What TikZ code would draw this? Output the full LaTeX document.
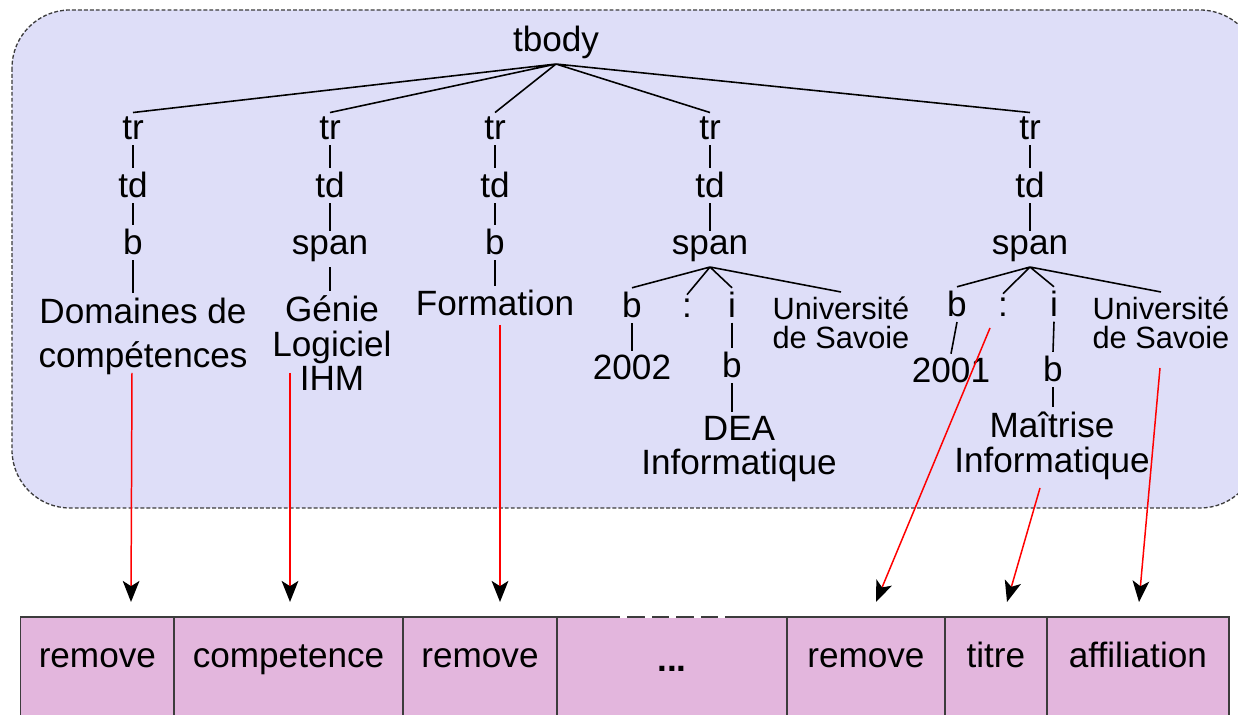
\documentclass[tikz,border=0pt]{standalone}
\usepackage{fontspec}
\setmainfont{Liberation Sans}
\usepackage{tikz}
\usetikzlibrary{arrows.meta,positioning}
\definecolor{treebg}{RGB}{222,222,248}
\definecolor{slotbg}{RGB}{227,182,221}
\definecolor{rimgray}{RGB}{60,60,60}

\begin{document}
\begin{tikzpicture}[x=0.02cm, y=-0.02cm,
    tag/.style={inner sep=2.5pt, anchor=base, font=\fontsize{20}{24}\selectfont},
    leaf/.style={inner sep=2.5pt, anchor=north, align=center, font=\fontsize{20}{#1}\selectfont},
    leaf/.default=20pt,
    note/.style={inner sep=2.5pt, anchor=north, align=center, font=\fontsize{17.5}{16.5pt}\selectfont},
    branch/.style={line width=0.9pt},
    slot/.style={draw=rimgray, fill=slotbg, line width=0.8pt, inner sep=0pt, outer sep=0pt,
        minimum width=#1, text height=28.5pt, text depth=35.8pt, font=\fontsize{20}{24}\selectfont},
    map/.style={red, line width=0.85pt, -{Stealth[length=12pt, width=9.5pt, inset=3pt, color=black]}}]
    \useasboundingbox (0,0) rectangle (1238,715);

    % frame round the tree
    \draw[rimgray, fill=treebg, line width=0.75pt, dash pattern=on 2.2pt off 1.2pt, rounded corners=33pt]
        (12,10) rectangle (1258,508);

    \node[tag] (tbody) at (556,52) {tbody};

    \node[tag] (tr1) at (133,140) {tr};
    \node[tag] (tr2) at (330,140) {tr};
    \node[tag] (tr3) at (495,140) {tr};
    \node[tag] (tr4) at (710,140) {tr};
    \node[tag] (tr5) at (1030,140) {tr};

    \node[tag] (td1) at (133,198) {td};
    \node[tag] (td2) at (330,198) {td};
    \node[tag] (td3) at (495,198) {td};
    \node[tag] (td4) at (710,198) {td};
    \node[tag] (td5) at (1030,198) {td};

    \node[tag] (b1) at (133,255) {b};
    \node[tag] (span2) at (330,255) {span};
    \node[tag] (b3) at (495,255) {b};
    \node[tag] (span4) at (710,255) {span};
    \node[tag] (span5) at (1030,255) {span};

    \node[leaf=25pt] (dom) at (143,293) {Domaines de\\compétences};
    \node[leaf=19.6pt] (genie) at (332,291) {Génie\\Logiciel\\IHM};
    \node[tag] (form) at (495,316) {Formation};

    \node[tag] (b4) at (632,318) {b};
    \node[tag] (colon4) at (687,318) {:};
    \node[tag] (i4) at (732,318) {i};
    \node[note] (univ4) at (841,292) {Université\\de Savoie};
    \node[tag] (year4) at (632,380) {2002};
    \node[tag] (bb4) at (732,378) {b};
    \node[leaf=19pt] (dea) at (739,412) {DEA\\Informatique};

    \node[tag] (b5) at (957,317) {b};
    \node[tag] (colon5) at (1003,317) {:};
    \node[tag] (i5) at (1054,317) {i};
    \node[note] (univ5) at (1161,292) {Université\\de Savoie};
    \node[tag] (year5) at (951,383) {2001};
    \node[tag] (bb5) at (1053,382) {b};
    \node[leaf] (mait) at (1052,407) {Maîtrise\\Informatique};

    \draw[branch] (tbody.south) -- (tr1.north) (tbody.south) -- (tr2.north) (tbody.south) -- (tr3.north)
        (tbody.south) -- (tr4.north) (tbody.south) -- (tr5.north);
    \draw[branch] (tr1.south) -- (td1.north) (td1.south) -- (b1.north) (b1.south) -- (b1.south |- dom.north);
    \draw[branch] (tr2.south) -- (td2.north) (td2.south) -- (span2.north) (span2.south) -- (span2.south |- genie.north);
    \draw[branch] (tr3.south) -- (td3.north) (td3.south) -- (b3.north) (b3.south) -- (form.north);
    \draw[branch] (tr4.south) -- (td4.north) (td4.south) -- (span4.north);
    \draw[branch] (span4.south) -- (b4.north) (span4.south) -- (colon4.north) (span4.south) -- (i4.north)
        (span4.south) -- (univ4.north);
    \draw[branch] (b4.south) -- (year4.north) (i4.south) -- (bb4.north) (bb4.south) -- (bb4.south |- dea.north);
    \draw[branch] (tr5.south) -- (td5.north) (td5.south) -- (span5.north);
    \draw[branch] (span5.south) -- (b5.north) (span5.south) -- (colon5.north) (span5.south) -- (i5.north)
        (span5.south) -- (univ5.north);
    \draw[branch] (b5.south) -- (year5.north) (i5.south) -- (bb5.north) (bb5.south) -- (bb5.south |- mait.north);

    % row of slots
    \node[slot=3.07cm, anchor=north west] (box1) at (20.6,617) {remove};
    \node[slot=4.58cm, right=0pt of box1] (box2) {competence};
    \node[slot=3.08cm, right=0pt of box2] (box3) {remove};
    \node[slot=4.60cm, right=0pt of box3, text height=31.3pt, text depth=33pt] (box4) {\textbf{...}};
    \node[slot=3.16cm, right=0pt of box4] (box5) {remove};
    \node[slot=2.04cm, right=0pt of box5] (box6) {titre};
    \node[slot=3.64cm, right=0pt of box6] (box7) {affiliation};
    \draw[white, line width=1.3pt, dash pattern=on 4pt off 10pt]
        ([xshift=1.26cm]box4.north west) -- ([xshift=-1.12cm]box4.north east);

    \coordinate (from1) at (132,373);  \coordinate (to1) at (131,602);
    \coordinate (from2) at (290,373);  \coordinate (to2) at (290,602);
    \coordinate (from3) at (500,325);  \coordinate (to3) at (500,602);
    \coordinate (from4) at (990,328);  \coordinate (to4) at (876,602);
    \coordinate (from5) at (1040,488); \coordinate (to5) at (1007,602);
    \coordinate (from6) at (1160,368); \coordinate (to6) at (1139,602);
    \draw[map] (from1) -- (to1);
    \draw[map] (from2) -- (to2);
    \draw[map] (from3) -- (to3);
    \draw[map] (from4) -- (to4);
    \draw[map] (from5) -- (to5);
    \draw[map] (from6) -- (to6);
\end{tikzpicture}
\end{document}
